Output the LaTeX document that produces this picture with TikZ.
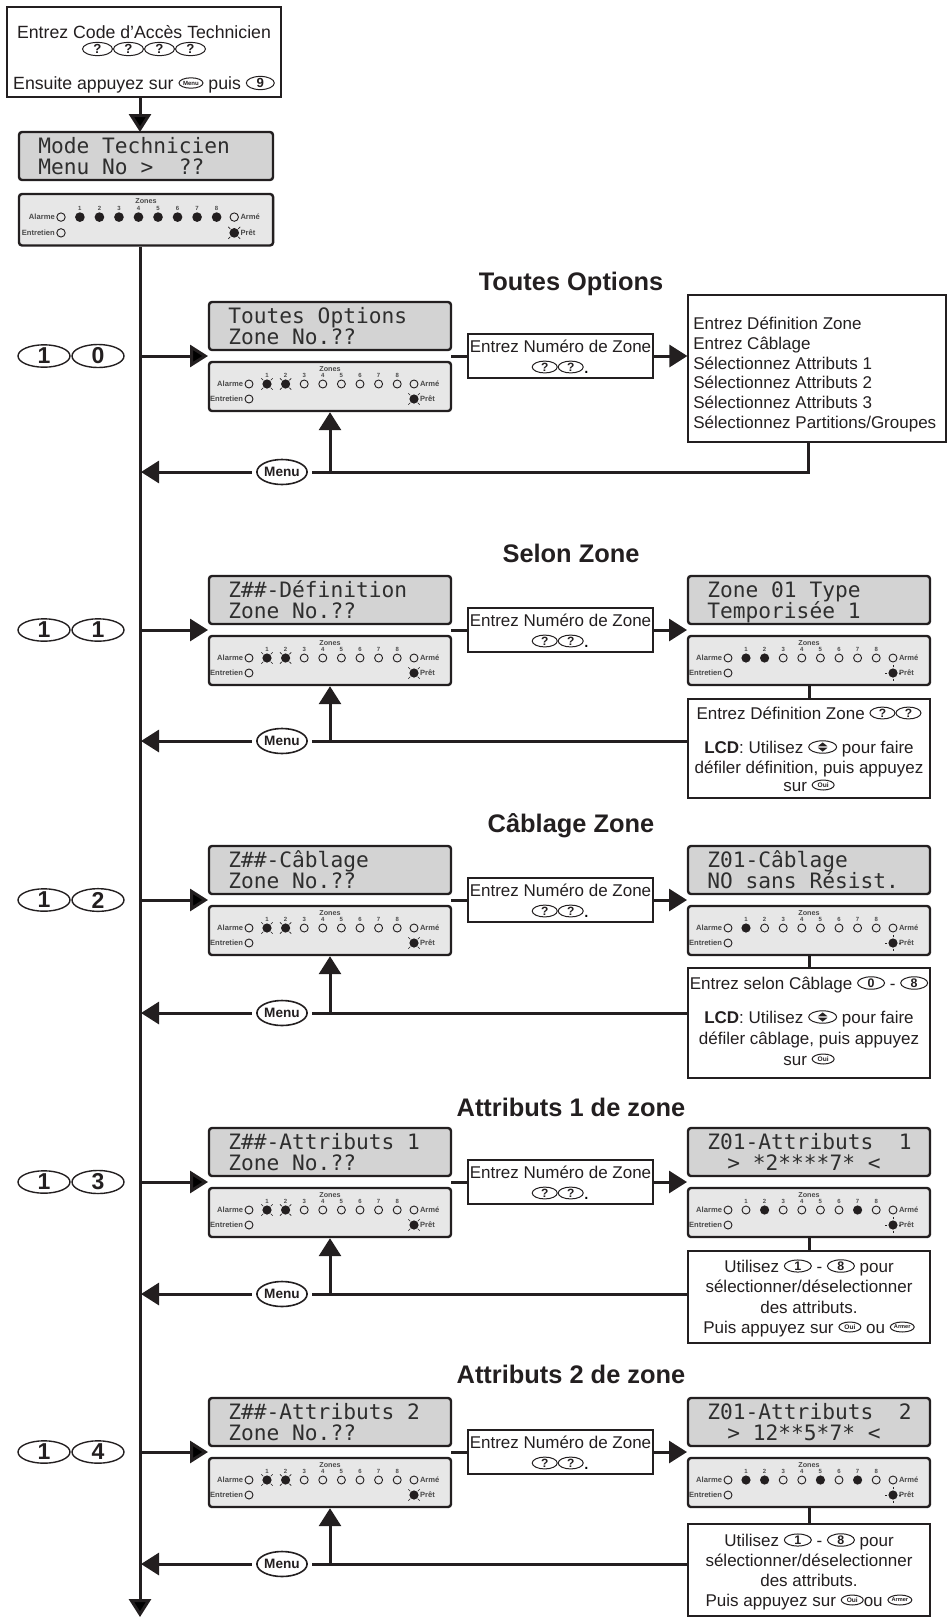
\documentclass[tikz,border=0pt]{standalone}
\usepackage{fontspec}
\setmainfont{Liberation Sans}
\newfontfamily\lcdfont{DejaVu Sans Mono}
\usetikzlibrary{arrows.meta,shapes.geometric,fit}
\definecolor{ink}{HTML}{231F20}
\definecolor{lcdfill}{HTML}{D3D3D3}
\definecolor{panfill}{HTML}{E7E7E7}
\definecolor{lcdink}{HTML}{2E2E2E}
\definecolor{labgray}{HTML}{4A4A4A}

% inline keypad keys
\newcommand\kb[4]{\tikz[baseline=-3pt]\node[ellipse,anchor=center,draw=ink,line width=0.5pt,inner sep=0pt,outer sep=0pt,minimum width=#1,minimum height=#2,font=#3,text=ink] (kk) at (0pt,0pt) {#4};}
\newcommand\kq{\kb{12.5pt}{5.8pt}{\bfseries\fontsize{6}{6}\selectfont}{?}}
\newcommand\kqt{\kb{15pt}{6.6pt}{\bfseries\fontsize{6.6}{6.6}\selectfont}{?}}
\newcommand\kmenu{\kb{12pt}{5.2pt}{\bfseries\fontsize{3}{3}\selectfont}{Menu}}
\newcommand\knine{\kb{14pt}{6.6pt}{\bfseries\fontsize{6.6}{6.6}\selectfont}{9}}
\newcommand\koui{\kb{11pt}{5pt}{\bfseries\fontsize{3.3}{3.3}\selectfont}{Oui}}
\newcommand\karmer{\kb{12pt}{5pt}{\bfseries\fontsize{2.8}{2.8}\selectfont}{Armer}}
\newcommand\kdig[1]{\kb{13.5pt}{6pt}{\bfseries\fontsize{6.2}{6.2}\selectfont}{#1}}
\newcommand\kud{\tikz[baseline=-3pt]{\node[ellipse,anchor=center,draw=ink,line width=0.5pt,inner sep=0pt,outer sep=0pt,minimum width=14pt,minimum height=6.2pt] (ku) at (0pt,0pt) {};
 \fill[ink] (-2.4pt,0.35pt)--(2.4pt,0.35pt)--(0pt,2.3pt)--cycle;
 \fill[ink] (-2.4pt,-0.35pt)--(2.4pt,-0.35pt)--(0pt,-2.3pt)--cycle;}}

% LEDs
\newcommand\ledo[1]{\draw[ink,line width=0.45pt] #1 circle[radius=2pt];}
\newcommand\ledf[1]{\fill[ink] #1 circle[radius=2.3pt];}
\newcommand\ledx[1]{\fill[ink] #1 circle[radius=2.3pt];\foreach \a in {45,135,225,315}{\draw[ink,line width=0.3pt] #1 ++(\a:2.7pt) -- ++(\a:1.3pt);}}
\newcommand\ledp[1]{\fill[ink] #1 circle[radius=2.3pt];\foreach \a in {0,90,180,270}{\draw[ink,line width=0.3pt] #1 ++(\a:2.8pt) -- ++(\a:1.3pt);}}

% LCD display: [width,height] name, left, top, line1, line2
\newcommand\lcd[6][242]{%
 \node[lcdbox, fit={({#3},{#4}) ({#3+#1},{#4+48})}] (#2) {};
 \node[lcdtxt] (#2-a) at ({#3+19},{#4+21}) {#5};
 \node[lcdtxt] (#2-b) at ({#3+19},{#4+42}) {#6};
}
% LED panel: [scale] name, left, top, states of 8 zones, state of Pret
\newcommand\ledpanel[6][1]{%
 \node[panbox, fit={({#3},{#4}) ({#3+242*#1},{#4+49*#1})}] (#2) {};
 \begin{scope}[shift={({#3},{#4})},xscale=#1,yscale=#1]
  \node[zlab] (#2-z) at (121,7) {Zones};
  \foreach \s [count=\i] in {#5} {
    \pgfmathsetmacro\xx{58+18.6*(\i-1)}
    \node[nlab] (#2-n\i) at (\xx,13.5) {\i};
    \csname led\s\endcsname{(\xx,22)}
  }
  \ledo{(40,22)}
  \ledo{(205,22)}
  \ledo{(40,37)}
  \csname led#6\endcsname{(205,37)}
  \node[plab,anchor=east] (#2-al) at (35,22) {Alarme};
  \node[plab,anchor=east] (#2-en) at (35,37) {Entretien};
  \node[plab,anchor=west] (#2-ar) at (210,22) {Armé};
  \node[plab,anchor=west] (#2-pr) at (210,37) {Prêt};
 \end{scope}}

% left part of a row: id, arrow y, menu y, digit1, digit2, lcd line1, lcd line2
\newcommand\leftpart[7]{%
 \node[bigkey] (ka#1) at (44,#2) {#4};
 \node[bigkey] (kb#1) at (98,#2) {#5};
 \lcd{lcd#1}{209}{#2-54}{#6}{#7}
 \ledpanel{pan#1}{209}{#2+6}{x,x,o,o,o,o,o,o}{x}
 \coordinate (ja#1) at (140,#2);
 \coordinate (ga#1) at (208,#2);
 \draw[arr] (ja#1) -- (ga#1);
 \node[wbox, fit={(468,{#2-22}) (653,{#2+22})}] (num#1) {};
 \node[txt] (numa#1) at (560.5,{#2-4}) {Entrez Numéro de Zone};
 \node[inner sep=0pt] (numb#1) at (560.5,{#2+11}) {\kq\kq.};
 \coordinate (gb#1) at (451,#2);
 \draw[conn] (gb#1) -- (num#1.west);
 \node[menukey] (menu#1) at (282,#3) {Menu};
 \coordinate (jb#1) at (141,#3);
 \coordinate (up#1) at (330,#3);
 \draw[arr] (menu#1.west) -- (jb#1);
 \draw[arr] (up#1) -- (pan#1.south);
}
% right part of a row: id, arrow y, lcd line1, lcd line2, zone states
\newcommand\rightpart[5]{%
 \lcd{rlcd#1}{688}{#2-54}{#3}{#4}
 \ledpanel{rpan#1}{688}{#2+6}{#5}{p}
 \coordinate (gc#1) at (687,#2);
 \draw[arr] (num#1.east) -- (gc#1);
}

\begin{document}
\begin{tikzpicture}[x=0.5pt,y=-0.5pt,
 conn/.style={draw=ink,line width=1.5pt},
 arr/.style={conn,-{Triangle[length=9pt,width=11pt]}},
 wbox/.style={draw=ink,line width=0.6pt,fill=white,inner sep=0pt},
 lcdbox/.style={draw=ink,line width=1.2pt,rounded corners=1.5pt,fill=lcdfill,inner sep=0pt},
 panbox/.style={draw=ink,line width=1.2pt,rounded corners=1.5pt,fill=panfill,inner sep=0pt},
 lcdtxt/.style={font=\lcdfont\fontsize{10.6}{12}\selectfont,text=lcdink,anchor=base west,inner sep=0pt},
 txt/.style={font=\fontsize{8.5}{10}\selectfont,text=ink,anchor=base,inner sep=0pt},
 txtl/.style={txt,anchor=base west},
 toptxt/.style={txt,font=\fontsize{8.85}{10}\selectfont},
 ttl/.style={font=\bfseries\fontsize{12.7}{14}\selectfont,text=ink,anchor=base,inner sep=0pt},
 bigkey/.style={ellipse,draw=ink,line width=0.7pt,inner sep=0pt,minimum width=26pt,minimum height=11pt,font=\bfseries\fontsize{11.5}{11.5}\selectfont,text=ink},
 menukey/.style={ellipse,draw=ink,line width=0.8pt,fill=white,inner sep=0pt,outer sep=2.5pt,minimum width=25pt,minimum height=12.5pt,font=\bfseries\fontsize{6.8}{7}\selectfont,text=ink},
 zlab/.style={font=\bfseries\fontsize{3.6}{4}\selectfont,text=labgray,inner sep=0pt},
 nlab/.style={font=\bfseries\fontsize{3}{3}\selectfont,text=labgray,inner sep=0pt},
 plab/.style={font=\bfseries\fontsize{3.8}{4}\selectfont,text=labgray,inner sep=0.3pt}]
\useasboundingbox (0,0) rectangle (948,1618);

% ---------- top ----------
\node[wbox, fit={(7,7) (281,97)}] (top) {};
\node[toptxt] (top1) at (144,38) {Entrez Code d’Accès Technicien};
\node[inner sep=0pt] (top2) at (144,49) {\kqt\kqt\kqt\kqt};
\node[toptxt] (top3) at (144,89) {Ensuite appuyez sur \kmenu{} puis \knine};
\lcd[254]{lcd0}{19}{132}{Mode Technicien}{Menu No >~~??}
\ledpanel[1.05]{pan0}{19}{194}{f,f,f,f,f,f,f,f}{x}
\coordinate (mtop) at (140,132);
\draw[arr] (top.south -| mtop) -- (mtop);

% ---------- titles ----------
\node[ttl] (ti10) at (571,290) {Toutes Options};
\node[ttl] (ti11) at (571,562) {Selon Zone};
\node[ttl] (ti12) at (571,832) {Câblage Zone};
\node[ttl] (ti13) at (571,1116) {Attributs 1 de zone};
\node[ttl] (ti14) at (571,1383) {Attributs 2 de zone};

% ---------- row 10 ----------
\leftpart{10}{356}{472}{1}{0}{Toutes Options}{Zone No.??}
\node[wbox, fit={(688,295) (946,442)}] (big) {};
\node[txtl] (bl1) at (693,329) {Entrez Définition Zone};
\node[txtl] (bl2) at (693,349) {Entrez Câblage};
\node[txtl] (bl3) at (693,369) {Sélectionnez Attributs 1};
\node[txtl] (bl4) at (693,388) {Sélectionnez Attributs 2};
\node[txtl] (bl5) at (693,408) {Sélectionnez Attributs 3};
\node[txtl] (bl6) at (693,428) {Sélectionnez Partitions/Groupes};
\draw[arr] (num10.east) -- (num10.east -| big.west);
\coordinate (c10) at (808,472);
\draw[conn] (big.south -| c10) -- (c10) -- (menu10.east);

% ---------- row 11 ----------
\leftpart{11}{630}{741}{1}{1}{Z\#\#-Définition}{Zone No.??}
\rightpart{11}{630}{Zone 01 Type}{Temporisée 1}{f,f,o,o,o,o,o,o}
\node[wbox, fit={(688,699) (930,798)}] (ins11) {};
\node[txt] (i11a) at (809,719) {Entrez Définition Zone \kq\kq};
\node[txt] (i11b) at (809,753) {\textbf{LCD}: Utilisez \kud{} pour faire};
\node[txt] (i11c) at (809,773) {défiler définition, puis appuyez};
\node[txt] (i11d) at (809,791) {sur \koui};
\draw[conn] (rpan11.south) -- (ins11.north);
\draw[conn] (ins11.west |- menu11) -- (menu11.east);

% ---------- row 12 ----------
\leftpart{12}{900}{1013}{1}{2}{Z\#\#-Câblage}{Zone No.??}
\rightpart{12}{900}{Z01-Câblage}{NO sans Résist.}{f,o,o,o,o,o,o,o}
\node[wbox, fit={(688,968) (930,1078)}] (ins12) {};
\node[txt] (i12a) at (809,989) {Entrez selon Câblage \kdig{0} - \kdig{8}};
\node[txt] (i12b) at (809,1023) {\textbf{LCD}: Utilisez \kud{} pour faire};
\node[txt] (i12c) at (809,1044) {défiler câblage, puis appuyez};
\node[txt] (i12d) at (809,1065) {sur \koui};
\draw[conn] (rpan12.south) -- (ins12.north);
\draw[conn] (ins12.west |- menu12) -- (menu12.east);

% ---------- row 13 ----------
\leftpart{13}{1182}{1294}{1}{3}{Z\#\#-Attributs 1}{Zone No.??}
\rightpart{13}{1182}{Z01-Attributs~~1}{\hspace{10pt}> *2****7* <}{o,f,o,o,o,o,f,o}
\node[wbox, fit={(688,1251) (930,1343)}] (ins13) {};
\node[txt] (i13a) at (809,1272) {Utilisez \kdig{1} - \kdig{8} pour};
\node[txt] (i13b) at (809,1292) {sélectionner/déselectionner};
\node[txt] (i13c) at (809,1313) {des attributs.};
\node[txt] (i13d) at (809,1333) {Puis appuyez sur \koui{} ou \karmer};
\draw[conn] (rpan13.south) -- (ins13.north);
\draw[conn] (ins13.west |- menu13) -- (menu13.east);

% ---------- row 14 ----------
\leftpart{14}{1452}{1564}{1}{4}{Z\#\#-Attributs 2}{Zone No.??}
\rightpart{14}{1452}{Z01-Attributs~~2}{\hspace{10pt}> 12**5*7* <}{f,f,o,o,f,o,f,o}
\node[wbox, fit={(688,1524) (930,1616)}] (ins14) {};
\node[txt] (i14a) at (809,1546) {Utilisez \kdig{1} - \kdig{8} pour};
\node[txt] (i14b) at (809,1566) {sélectionner/déselectionner};
\node[txt] (i14c) at (809,1586) {des attributs.};
\node[txt] (i14d) at (809,1606) {Puis appuyez sur \koui{}ou \karmer};
\draw[conn] (rpan14.south) -- (ins14.north);
\draw[conn] (ins14.west |- menu14) -- (menu14.east);

% ---------- main vertical line ----------
\coordinate (mainend) at (140,1617);
\draw[arr] (pan0.south -| mainend) -- (mainend);
\end{tikzpicture}
\end{document}
